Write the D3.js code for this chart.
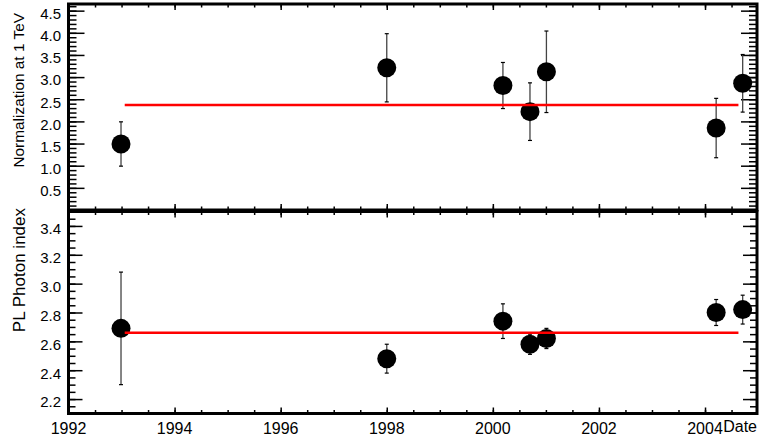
<!DOCTYPE html>
<html>
<head>
<meta charset="utf-8">
<script src="https://cdn.jsdelivr.net/npm/d3@7"></script>
<style>
  body { margin: 0; background: #fff; }
  svg { display: block; font-family: "Liberation Sans", Arial, Helvetica, sans-serif; }
  .axis path.domain { display: none; }
  .axis line { stroke: #000; stroke-width: 1.5; }
</style>
</head>
<body>
<svg id="chart" width="759" height="439"></svg>
<script>
// Observation dates (decimal years)
var dates = [1992.99, 1998.0, 2000.19, 2000.70, 2001.01, 2004.21, 2004.71];

// Normalization at 1 TeV
var norm    = [1.49, 3.21, 2.81, 2.22, 3.12, 1.85, 2.86];
var normErr = [0.50, 0.77, 0.52, 0.65, 0.92, 0.67, 0.65];
var normFit = 2.37;

// Power-law photon index
var index    = [2.69, 2.48, 2.74, 2.58, 2.62, 2.80, 2.82];
var indexErr = [0.39, 0.10, 0.12, 0.07, 0.07, 0.09, 0.10];
var indexFit = 2.66;

var fitRange = [1993.06, 2004.63];

// Tick labels
var yearTicks  = [1992, 1994, 1996, 1998, 2000, 2002, 2004];
var normTicks  = [0.5, 1.0, 1.5, 2.0, 2.5, 3.0, 3.5, 4.0, 4.5];
var indexTicks = [2.2, 2.4, 2.6, 2.8, 3.0, 3.2, 3.4];

var svg = d3.select('#chart');

var LEFT = 68.5, RIGHT = 757;
var x = d3.scaleLinear().domain([1992, 2004.98]).range([LEFT, RIGHT]);

var xMinor = d3.range(1992, 2005, 0.5);

function drawPanel(opts) {
    var y = d3.scaleLinear().domain(opts.domain).range(opts.range);
    var top = opts.range[1], bottom = opts.range[0];
    var g = svg.append('g');

    var minor = d3.range(0, Math.round((opts.domain[1] - opts.domain[0]) / opts.minorStep) + 1)
        .map(function(i) { return +(opts.domain[0] + i * opts.minorStep).toFixed(3); })
        .filter(function(v) { return v >= opts.domain[0] && v <= opts.domain[1]; });

    // left axis: minor ticks, major ticks with labels
    g.append('g').attr('class', 'axis')
        .attr('transform', 'translate(' + LEFT + ',0)')
        .call(d3.axisLeft(y).tickValues(minor).tickSize(-opts.minorLen).tickFormat(''));
    var left = g.append('g').attr('class', 'axis')
        .attr('transform', 'translate(' + LEFT + ',0)')
        .call(d3.axisLeft(y).tickValues(opts.ticks).tickSize(-opts.majorLen)
            .tickPadding(7.5).tickFormat(d3.format('.1f')));
    left.selectAll('text')
        .attr('dy', '0.52em')
        .style('font-size', '15px')
        .attr('fill', '#000');

    // right axis mirror
    g.append('g').attr('class', 'axis')
        .attr('transform', 'translate(' + RIGHT + ',0)')
        .call(d3.axisRight(y).tickValues(minor).tickSize(-opts.minorLen).tickFormat(''));
    g.append('g').attr('class', 'axis')
        .attr('transform', 'translate(' + RIGHT + ',0)')
        .call(d3.axisRight(y).tickValues(opts.ticks).tickSize(-opts.majorLen).tickFormat(''));

    // x ticks on top and bottom edges
    [[top, d3.axisTop], [bottom, d3.axisBottom]].forEach(function(e) {
        g.append('g').attr('class', 'axis')
            .attr('transform', 'translate(0,' + e[0] + ')')
            .call(e[1](x).tickValues(xMinor).tickSize(-3.5).tickFormat(''));
        g.append('g').attr('class', 'axis')
            .attr('transform', 'translate(0,' + e[0] + ')')
            .call(e[1](x).tickValues(yearTicks).tickSize(-6).tickFormat(''));
    });

    // error bars
    var bars = g.append('g').selectAll('g')
        .data(dates.map(function(d, i) { return { t: d, v: opts.values[i], e: opts.errors[i] }; }))
        .enter().append('g');
    bars.append('line')
        .attr('x1', function(d) { return x(d.t); })
        .attr('x2', function(d) { return x(d.t); })
        .attr('y1', function(d) { return y(d.v - d.e); })
        .attr('y2', function(d) { return y(d.v + d.e); })
        .attr('stroke', '#444').attr('stroke-width', 1.3);
    [-1, 1].forEach(function(s) {
        bars.append('line')
            .attr('x1', function(d) { return x(d.t) - 2; })
            .attr('x2', function(d) { return x(d.t) + 2; })
            .attr('y1', function(d) { return y(d.v + s * d.e); })
            .attr('y2', function(d) { return y(d.v + s * d.e); })
            .attr('stroke', '#000').attr('stroke-width', 1.2);
    });

    // markers
    bars.append('circle')
        .attr('cx', function(d) { return x(d.t); })
        .attr('cy', function(d) { return y(d.v); })
        .attr('r', 9.5)
        .attr('fill', '#000');

    // constant fit
    g.append('line')
        .attr('x1', x(fitRange[0])).attr('x2', x(fitRange[1]))
        .attr('y1', y(opts.fit)).attr('y2', y(opts.fit))
        .attr('stroke', '#ff0000').attr('stroke-width', 2.5);

    // frame
    g.append('rect')
        .attr('x', LEFT).attr('y', top)
        .attr('width', RIGHT - LEFT).attr('height', bottom - top)
        .attr('fill', 'none').attr('stroke', '#000').attr('stroke-width', 3);

    // y title
    g.append('text')
        .attr('transform', 'translate(' + opts.titleX + ',' + opts.titleY + ') rotate(-90)')
        .attr('text-anchor', 'end')
        .style('font-size', opts.titleSize + 'px')
        .text(opts.title);

    return y;
}

drawPanel({
    domain: [0, 4.65], range: [210, 4],
    ticks: normTicks, minorStep: 0.1, majorLen: 16, minorLen: 8,
    values: norm, errors: normErr, fit: normFit,
    title: 'Normalization at 1 TeV', titleX: 24, titleY: 13, titleSize: 15.4
});

drawPanel({
    domain: [2.1, 3.5], range: [413.5, 211.5],
    ticks: indexTicks, minorStep: 0.05, majorLen: 14, minorLen: 7,
    values: index, errors: indexErr, fit: indexFit,
    title: 'PL Photon index', titleX: 25, titleY: 208, titleSize: 17
});

// x tick labels
svg.append('g').selectAll('text')
    .data(yearTicks)
    .enter().append('text')
    .attr('x', function(d) { return x(d); })
    .attr('y', 434)
    .attr('text-anchor', 'middle')
    .style('font-size', '16px')
    .text(function(d) { return d; });

svg.append('text')
    .attr('x', RIGHT)
    .attr('y', 432)
    .attr('text-anchor', 'end')
    .style('font-size', '16px')
    .text('Date');
</script>
</body>
</html>
